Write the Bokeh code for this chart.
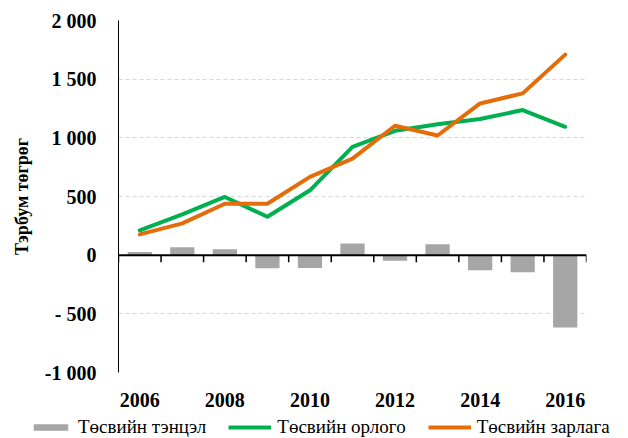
import numpy as np
from bokeh.plotting import figure
from bokeh.models import Range1d, FixedTicker, Legend, LegendItem, Span, Title
from bokeh.embed import file_html
from bokeh.resources import INLINE

# ---- data ----
years = [2006, 2007, 2008, 2009, 2010, 2011, 2012, 2013, 2014, 2015, 2016]
balance = [28, 68, 51, -111, -110, 99, -48, 94, -128, -145, -617]
revenue = [211, 348, 496, 327, 553, 923, 1060, 1115, 1160, 1237, 1094]
expenditure = [177, 271, 438, 438, 667, 823, 1103, 1020, 1293, 1379, 1709]
y_ticks = [-1000, -500, 0, 500, 1000, 1500, 2000]
y_tick_labels = ["-1 000", "- 500", "0", "500", "1 000", "1 500", "2 000"]
x_tick_years = [2006, 2008, 2010, 2012, 2014, 2016]
legend_labels = ["Төсвийн тэнцэл", "Төсвийн орлого", "Төсвийн зарлага"]
y_title = "Тэрбум төгрөг"

FONT = "Liberation Serif"
GREEN = "#00b050"
ORANGE = "#e46c0a"
GRAY = "#a6a6a6"

p = figure(width=628, height=410, output_backend="svg", toolbar_location=None,
           x_range=Range1d(years[0] - 0.5, years[-1] + 0.5),
           y_range=Range1d(y_ticks[0], y_ticks[-1]),
           min_border_left=117, min_border_right=42, min_border_top=20,
           min_border_bottom=38)
p.outline_line_color = None
p.background_fill_color = "white"
p.border_fill_color = "white"

# grid
p.xgrid.visible = False
p.ygrid.ticker = FixedTicker(ticks=y_ticks)
p.ygrid.grid_line_color = "#d9d9d9"
p.ygrid.grid_line_dash = "4 3"
p.ygrid.grid_line_width = 1

# y axis
p.yaxis.ticker = FixedTicker(ticks=y_ticks)
p.yaxis.major_label_overrides = {t: l for t, l in zip(y_ticks, y_tick_labels)}
p.yaxis.axis_line_color = "black"
p.yaxis.axis_line_width = 1
p.yaxis.major_tick_line_color = None
p.yaxis.minor_tick_line_color = None
p.yaxis.major_label_standoff = 16
p.yaxis.major_label_text_font = FONT
p.yaxis.major_label_text_font_style = "bold"
p.yaxis.major_label_text_font_size = "20px"
p.yaxis.major_label_text_color = "black"

# x axis
p.xaxis.ticker = FixedTicker(ticks=x_tick_years)
p.xaxis.axis_line_color = None
p.xaxis.major_tick_line_color = None
p.xaxis.minor_tick_line_color = None
p.xaxis.major_label_standoff = 14
p.xaxis.major_label_text_font = FONT
p.xaxis.major_label_text_font_style = "bold"
p.xaxis.major_label_text_font_size = "20px"
p.xaxis.major_label_text_color = "black"

# y title on the left
p.add_layout(Title(text=y_title, align="center", offset=24, standoff=19,
                   text_font=FONT, text_font_style="bold", text_font_size="18px",
                   text_color="black"), "left")

# bars
p.vbar(x=years, top=balance, bottom=0, width=0.57, fill_color=GRAY, line_color=None)

# zero line with category boundary ticks
p.add_layout(Span(location=0, dimension="width", line_color="black", line_width=2))
bounds = np.arange(years[0] - 0.5, years[-1] + 1.0, 1.0)
tick_len = (y_ticks[-1] - y_ticks[0]) * 0.02
p.segment(x0=bounds, y0=0, x1=bounds, y1=-tick_len, line_color="black", line_width=1.5)

# lines
p.line(years, revenue, line_color=GREEN, line_width=4, line_join="round", line_cap="round")
p.line(years, expenditure, line_color=ORANGE, line_width=4, line_join="round", line_cap="round")

# legend strip: a separate figure whose ranges keep its proxy glyphs out of view
lg = figure(width=628, height=28, output_backend="svg", toolbar_location=None,
            x_axis_type=None, y_axis_type=None, min_border=0,
            x_range=Range1d(0, 1), y_range=Range1d(0, 1))
lg.outline_line_color = None
lg.grid.visible = False
lb = lg.vbar(x=years, top=balance, width=0.57, fill_color=GRAY, line_color=None)
lr = lg.line(years, revenue, line_color=GREEN, line_width=4)
le = lg.line(years, expenditure, line_color=ORANGE, line_width=4)
legend = Legend(items=[LegendItem(label=legend_labels[0], renderers=[lb]),
                       LegendItem(label=legend_labels[1], renderers=[lr]),
                       LegendItem(label=legend_labels[2], renderers=[le])],
                orientation="horizontal", location=(29, 0),
                label_text_font=FONT, label_text_font_size="19px",
                label_text_color="black", border_line_color=None,
                background_fill_alpha=0, padding=0, margin=0, spacing=22,
                label_standoff=6, glyph_width=43, glyph_height=8, label_height=20)
lg.add_layout(legend)

open("out.html", "w").write(file_html([p, lg], INLINE))
